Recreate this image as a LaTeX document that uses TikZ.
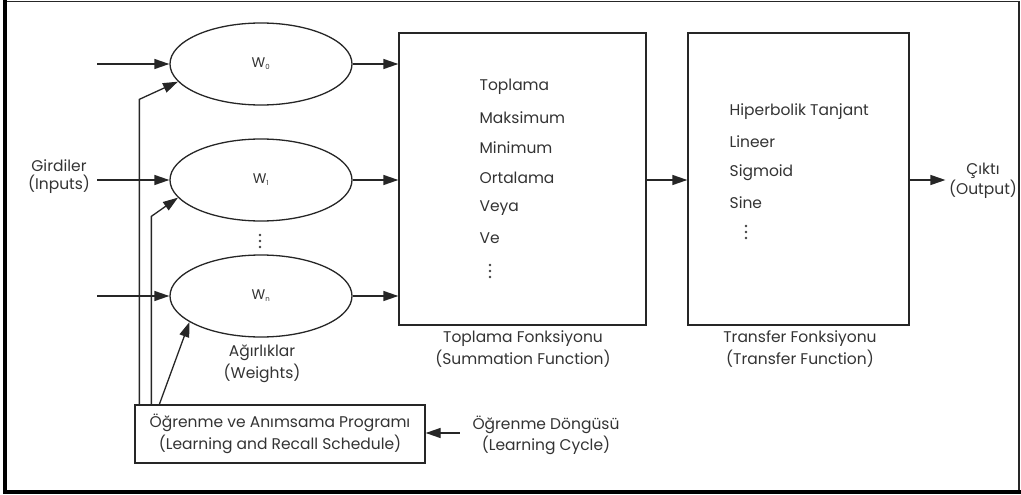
\documentclass[tikz,border=0pt]{standalone}
\usepackage{fontspec}
\setmainfont{Poppins}
\usetikzlibrary{shapes.geometric,arrows.meta}
\newcommand{\dotcol}[2]{% three stacked dots centred at (#1,#2)
  \foreach \k in {-6,0,6} \fill[black!75] (#1,#2+\k) circle (1.3pt);}
\begin{document}
\begin{tikzpicture}[x=1pt,y=-1pt,
  line width=1.3pt, draw=black!85,
  every node/.style={text=black!80, font=\fontsize{15.5}{22}\selectfont, inner sep=0pt},
  tip/.style={-{Triangle[length=15pt,width=10pt]}},
  weight/.style={ellipse, draw, minimum width=182pt, minimum height=82pt},
  funcbox/.style={rectangle, draw, minimum height=292pt},
  item/.style={anchor=west},
  caption/.style={align=center},
  wlabel/.style={font=\fontsize{14}{16}\selectfont}
]
\useasboundingbox (0,0) rectangle (1021,495);
% outer frame
\draw[line width=1.5pt] (6,1.5) -- (1019,1.5) -- (1019,491);
\draw[line width=4.5pt, draw=black] (5,0) -- (5,492) -- (1021,492);

% weights
\node[weight, wlabel] (w0) at (261,64) {W\textsubscript{\fontsize{7}{8}\selectfont 0}};
\node[weight, wlabel] (w1) at (261,180) {W\textsubscript{\fontsize{7}{8}\selectfont 1}};
\node[weight, wlabel] (wn) at (261,296) {W\textsubscript{\fontsize{7}{8}\selectfont n}};
\dotcol{260}{241}
\node[caption] (wcap) at (262,364) {Ağırlıklar\\(Weights)};

% inputs
\node[caption, font=\fontsize{15.5}{18}\selectfont] (inp) at (59,177) {Girdiler\\(Inputs)};
\coordinate (i0) at (97,64);
\coordinate (i1) at (97,180);
\coordinate (in) at (97,296);
\draw[tip] (i0) -- (w0.west);
\draw[tip] (i1) -- (w1.west);
\draw[tip] (in) -- (wn.west);

% summation function
\node[funcbox, minimum width=247pt] (sum) at (522.5,179) {};
\foreach \t [count=\i] in {Toplama,Maksimum,Minimum,Ortalama,Veya,Ve}
  \node[item] (s\i) at (479,57+30.2*\i) {\t};
\dotcol{490}{271}
\node[caption] (sumcap) at (523,349) {Toplama Fonksiyonu\\(Summation Function)};

\draw[tip] (w0.east) -- (w0.east -| sum.west);
\draw[tip] (w1.east) -- (w1.east -| sum.west);
\draw[tip] (wn.east) -- (wn.east -| sum.west);

% transfer function
\node[funcbox, minimum width=221pt] (tr) at (798.5,179) {};
\foreach \t [count=\i] in {Hiperbolik Tanjant,Lineer,Sigmoid,Sine}
  \node[item] (t\i) at (729,81+30.5*\i) {\t};
\dotcol{746}{232}
\node[caption] (trcap) at (800,349) {Transfer Fonksiyonu\\(Transfer Function)};

\draw[tip] (sum.east |- 0,180) -- (tr.west |- 0,180);

% output
\node[caption, font=\fontsize{15.5}{18}\selectfont] (outp) at (983,181) {Çıktı\\(Output)};
\draw[tip] (tr.east |- 0,180) -- ([xshift=-3pt]outp.west |- 0,180);

% learning schedule
\node[rectangle, draw, minimum width=290pt, minimum height=58pt, caption] (learn) at (280,434)
  {Öğrenme ve Anımsama Programı\\(Learning and Recall Schedule)};
\node[caption, font=\fontsize{15.5}{21}\selectfont] (cycle) at (546,435) {Öğrenme Döngüsü\\(Learning Cycle)};
\draw[tip] ([xshift=-12pt]cycle.west |- 0,433) -- (learn.east |- 0,433);

% feedback from the schedule to the weights
\draw[tip] ([xshift=5pt]learn.north west) -- ++(0,-305) -- (w0.192);
\draw[tip] ([xshift=17pt]learn.north west) -- ++(0,-188) -- (w1.192);
\draw[tip] ([xshift=25pt]learn.north west) -- (wn.200);
\end{tikzpicture}
\end{document}
